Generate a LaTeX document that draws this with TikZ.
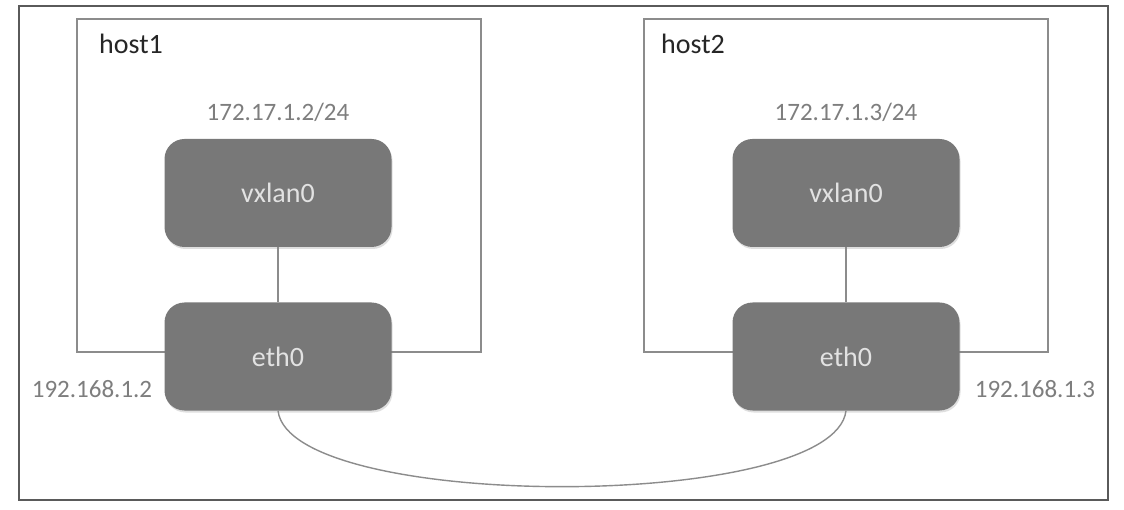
\documentclass[tikz,border=0pt]{standalone}
\usepackage{fontspec}
\setmainfont{Carlito}
\usetikzlibrary{shadows}
\definecolor{boxfill}{HTML}{787878}
\definecolor{boxtext}{HTML}{E2E2E2}
\definecolor{lbl}{HTML}{7E7E7E}
\definecolor{hostline}{HTML}{8C8C8C}
\definecolor{frameline}{HTML}{5A5A5A}
\begin{document}
\begin{tikzpicture}[x=1pt,y=-1pt,
  dev/.style={rectangle, rounded corners=20pt, fill=boxfill, draw=none,
    minimum width=227pt, minimum height=108pt, inner sep=0pt,
    text=boxtext, font=\fontsize{28}{30}\selectfont,
    drop shadow={opacity=0.25, shadow xshift=1pt, shadow yshift=-2pt}},
  hostbox/.style={draw=hostline, line width=1.4pt},
  hostlbl/.style={anchor=west, text=black!85, font=\fontsize{28}{30}\selectfont, inner sep=0pt},
  iplbl/.style={text=lbl, font=\fontsize{25}{28}\selectfont, inner sep=0pt},
  link/.style={draw=hostline, line width=1.4pt}]
\useasboundingbox (0,0) rectangle (1124,510);
\fill[white] (0,0) rectangle (1124,510);
% outer frame
\draw[frameline, line width=2pt] (19,6) rectangle (1108,500);
% host boxes
\draw[hostbox] (77,19) rectangle (481,352);
\draw[hostbox] (644,19) rectangle (1048,352);
\node[hostlbl] (h1) at (99,44) {host1};
\node[hostlbl] (h2) at (661,44) {host2};
% ip labels
\node[iplbl] (ip1) at (278,112) {172.17.1.2/24};
\node[iplbl] (ip2) at (846,112) {172.17.1.3/24};
\node[iplbl] (pub1) at (92,389) {192.168.1.2};
\node[iplbl] (pub2) at (1035,389) {192.168.1.3};
% devices
\node[dev] (vx1) at (278,193) {vxlan0};
\node[dev] (vx2) at (846,193) {vxlan0};
\node[dev] (eth1) at (278,356.5) {eth0};
\node[dev] (eth2) at (846,356.5) {eth0};
% connectors
\draw[link] (vx1.south) -- (eth1.north);
\draw[link] (vx2.south) -- (eth2.north);
\draw[link] (eth1.south) .. controls (290,512) and (834,512) .. (eth2.south);
\end{tikzpicture}
\end{document}
